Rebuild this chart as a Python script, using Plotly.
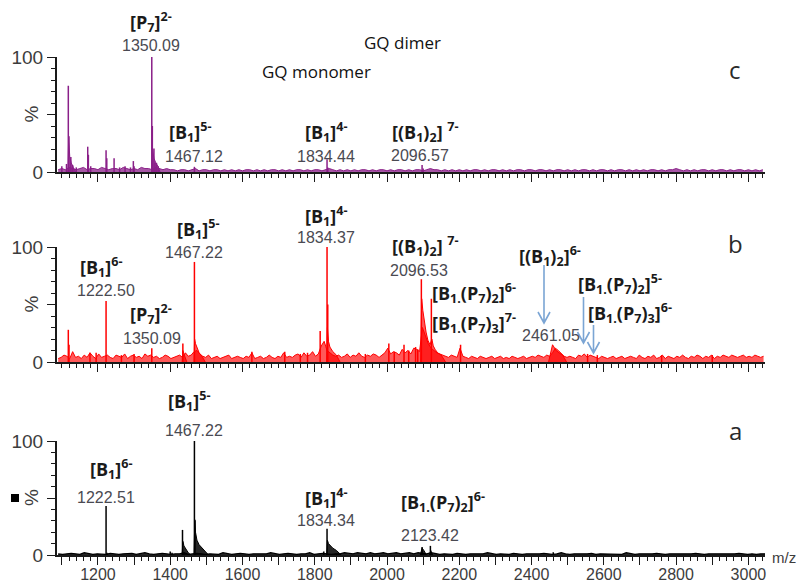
import plotly.graph_objects as go

# ---------------- data ----------------
# sharp sticks (m/z, relative intensity %)
c_peak_mz = [1100, 1113, 1118, 1119.5, 1125, 1130, 1140, 1171.7, 1173.5, 1180, 1222.5, 1224.5,
             1244.7, 1260, 1275, 1290, 1298, 1300, 1349, 1350.5, 1355, 1358, 1362, 1367,
             1467, 1834, 1836, 2097, 2100]
c_peak_int = [5, 7, 75, 31, 13, 6, 4, 22, 15, 5, 19, 12,
              12, 4, 5, 4, 9.5, 5, 100, 40, 20.5, 8, 8, 5,
              4.5, 11, 4, 6, 3]

b_peak_mz = [1118, 1120, 1178, 1195, 1222.5, 1265, 1300, 1349, 1435, 1467, 1626, 1717, 1760,
             1780, 1815, 1834, 1836, 1940, 2005, 2020, 2047, 2060, 2079, 2085, 2095,
             2122.7, 2203.5, 2555, 2582, 2760, 2900]
b_peak_int = [28, 15, 8, 8, 53, 6, 7, 12, 16, 87, 9, 9, 7,
              8, 27, 100, 50, 7, 16, 9, 15, 10, 13, 11, 72,
              55, 15, 7, 6, 6, 6]

a_peak_mz = [1222.5, 1225, 1400, 1405, 1434, 1467, 1468.5, 1825, 1834, 2097, 2120, 2460]
a_peak_int = [43, 2, 3, 2, 22, 100, 31, 3, 23, 7, 8, 2.5]

# unresolved envelopes / tails (m/z, intensity %), each segment starts and ends on the baseline
c_tail_mz = [1117, 1119, 1122, 1126, 1132, 1138, None,
             1350, 1351, 1355, 1360, 1366, 1372]
c_tail_int = [0, 31, 13, 8, 4, 0, None,
              0, 20, 12, 8, 5, 0]

b_tail_mz = [1433, 1435, 1439, 1446, None,
             1466, 1467.5, 1470, 1474, 1480, 1488, 1497, None,
             1833, 1835, 1838, 1842, 1850, 1860, 1870, None,
             2093, 2096, 2099, 2103, 2108, 2113, 2119, 2124, 2128, 2133, 2140, 2150, 2162, None,
             2447, 2453, 2458, 2462, 2468, 2476, 2486, 2497]
b_tail_int = [0, 10, 6, 0, None,
              0, 20, 16, 12, 8, 5, 0, None,
              0, 30, 18, 13, 9, 6, 0, None,
              0, 55, 45, 35, 26, 19, 15, 20, 14, 11, 8, 6, 0, None,
              0, 8, 15, 13, 10, 8, 6, 0]

a_tail_mz = [1433, 1435, 1438, 1443, 1450, 1457, None,
             1466, 1468, 1470, 1474, 1480, 1488, 1496, 1506, None,
             1833, 1835, 1838, 1843, 1850, 1860, 1873, None,
             2092, 2097, 2102, 2109, None,
             2118, 2121, 2126]
a_tail_int = [0, 12, 8, 5, 2, 0, None,
              0, 30, 20, 13, 9, 6, 4, 0, None,
              0, 13, 10, 8, 6, 4, 0, None,
              0, 6, 4, 0, None,
              0, 4, 0]

# baseline noise profiles (intensity %), sampled every *_noise_step m/z from *_noise_start
c_noise_start, c_noise_step = 1090, 10
c_noise = [2, 3, 2, 4, 3, 2, 3, 4, 2, 3, 3, 2, 4, 3, 2, 3,
           3, 2, 4, 3, 2, 3, 2, 4, 3, 3, 2, 4, 3, 2, 3, 2,
           2, 1, 2, 2, 1, 2, 3, 1, 2, 2, 1, 2, 2, 1, 2, 1,
           2, 1, 2, 1, 2, 2, 1, 2, 1, 2, 1, 2, 2, 1, 2, 1,
           2, 1, 2, 2, 1, 2, 1, 2, 2, 1, 2, 3, 2, 1, 2, 1,
           2, 1, 2, 1, 2, 2, 1, 2, 1, 2, 2, 1, 2, 1, 2, 2,
           1, 2, 1, 2, 2, 1, 2, 3, 2, 2, 1, 2, 1, 2, 1, 2,
           1, 2, 1, 2, 2, 1, 2, 1, 2, 2, 1, 2, 1, 2, 1, 2,
           2, 1, 2, 2, 1, 2, 2, 1, 2, 1, 2, 2, 1, 2, 1, 2,
           1, 2, 2, 1, 2, 1, 2, 2, 1, 2, 1, 2, 2, 1, 2, 1,
           2, 1, 2, 1, 2, 2, 1, 2, 1, 2, 2, 3, 2, 1, 2, 1,
           2, 1, 2, 2, 1, 2, 1, 2, 2, 1, 2, 1, 2, 2, 1, 2,
           1, 2, 1, 2]

b_noise_start, b_noise_step = 1090, 8
b_noise = [3, 4, 6, 5, 3, 9, 4, 5, 3, 6, 4, 8, 5, 3, 7, 4,
           5, 6, 4, 3, 6, 5, 4, 7, 3, 5, 6, 4, 5, 3, 7, 5,
           6, 4, 5, 3, 4, 6, 5, 3, 4, 5, 6, 4, 8, 5, 6, 9,
           10, 7, 5, 4, 6, 3, 4, 5, 3, 4, 5, 6, 3, 4, 5, 4,
           3, 5, 4, 8, 3, 4, 5, 3, 4, 6, 4, 3, 5, 4, 8, 4,
           5, 4, 6, 7, 4, 8, 5, 6, 9, 5, 7, 14, 18, 10, 8, 6,
           5, 6, 4, 5, 7, 4, 6, 5, 8, 5, 4, 6, 5, 7, 6, 4,
           6, 8, 12, 7, 9, 8, 6, 11, 8, 10, 7, 12, 11, 9, 30, 22,
           16, 12, 10, 8, 7, 6, 5, 4, 6, 5, 4, 12, 5, 4, 3, 5,
           4, 3, 5, 4, 3, 4, 5, 3, 4, 5, 3, 4, 3, 5, 4, 3,
           4, 5, 3, 4, 5, 4, 6, 5, 4, 6, 5, 8, 12, 10, 7, 5,
           4, 5, 4, 3, 6, 5, 7, 4, 6, 5, 4, 3, 5, 4, 3, 4,
           5, 3, 4, 5, 3, 4, 5, 4, 3, 6, 4, 3, 5, 4, 6, 3,
           4, 6, 3, 5, 4, 3, 5, 4, 6, 4, 3, 5, 4, 6, 5, 3,
           5, 4, 6, 3, 5, 4, 6, 5, 4, 6, 5, 4, 5, 6, 4, 5,
           4, 6, 5, 4, 5]

a_noise_start, a_noise_step = 1090, 12
a_noise = [1, 0.5, 1, 1.5, 1, 0.5, 2, 1, 0.5, 1, 1, 0.5, 1.5, 1, 0.5, 1,
           1, 1.5, 0.5, 1, 2, 1, 0.5, 1, 1.5, 1, 0.5, 1, 1, 2, 0.5, 1,
           1.5, 1, 0.5, 1, 1, 0.5, 2, 1, 0.5, 1, 1.5, 1, 0.5, 1, 1, 0.5,
           1, 2, 1, 0.5, 1, 1.5, 1, 0.5, 1, 1, 2, 0.5, 1, 1.5, 1, 0.5,
           1, 1, 2, 1.5, 1, 2, 1.5, 1, 2, 1, 1.5, 2, 1, 1.5, 2, 1,
           1.5, 2, 1, 2, 1.5, 1, 2, 1, 0.5, 1, 1, 0.5, 1.5, 1, 0.5, 1,
           1, 0.5, 1, 2, 1, 0.5, 1, 1, 0.5, 1.5, 1, 0.5, 1, 1, 0.5, 1,
           1.5, 1, 0.5, 1, 2, 1, 0.5, 1, 1, 0.5, 1, 1.5, 0.5, 1, 1, 0.5,
           1, 1, 0.5, 2, 1, 0.5, 1, 1, 0.5, 1, 1.5, 1, 0.5, 1, 1, 0.5,
           1, 0.5, 1, 1.5, 1, 0.5, 1, 1, 0.5, 1, 1, 0.5, 1, 1.5, 1, 0.5,
           1, 0.5, 1, 1]

tick_vals = [1100, 1200, 1300, 1400, 1500, 1600, 1700, 1800, 1900, 2000,
             2100, 2200, 2300, 2400, 2500, 2600, 2700, 2800, 2900, 3000]
tick_labels = ["", "1200", "", "1400", "", "1600", "", "1800", "", "2000",
               "", "2200", "", "2400", "", "2600", "", "2800", "", "3000"]

# ---------------- layout helpers ----------------
W, H = 799, 583
def fx(px):
    return px / W
def fy(py):
    return 1 - py / H

X_LEFT, X_RIGHT = 57, 765
X_RANGE = [1086.7, 3046]
# (top of 100 %, baseline) in px
panels = {"c": (57, 172), "b": (247, 362), "a": (441, 555)}
colors = {"c": "#8a1f88", "b": "#ff0000", "a": "#000000"}
fills = {"c": "rgba(138,31,136,0.75)", "b": "rgba(255,0,0,0.65)", "a": "rgba(0,0,0,0.85)"}
data = {
    "c": (c_peak_mz, c_peak_int, c_tail_mz, c_tail_int, c_noise_start, c_noise_step, c_noise),
    "b": (b_peak_mz, b_peak_int, b_tail_mz, b_tail_int, b_noise_start, b_noise_step, b_noise),
    "a": (a_peak_mz, a_peak_int, a_tail_mz, a_tail_int, a_noise_start, a_noise_step, a_noise),
}

fig = go.Figure()
layout = dict(
    width=W, height=H, autosize=False,
    margin=dict(l=0, r=0, t=0, b=0),
    paper_bgcolor="white", plot_bgcolor="white",
    showlegend=False,
)

AXCOL = "#1a1a1a"
for i, key in enumerate(["c", "b", "a"], start=1):
    top, bot = panels[key]
    pk_mz, pk_int, t_mz, t_int, n0, nstep, noise = data[key]
    xa = "x" if i == 1 else f"x{i}"
    ya = "y" if i == 1 else f"y{i}"
    col = colors[key]
    # noise profile (filled to baseline)
    nmz = [n0 + nstep * k for k in range(len(noise))]
    fig.add_trace(go.Scatter(x=nmz, y=noise, mode="lines", xaxis=xa, yaxis=ya,
                             line=dict(color=col, width=1.3 if key == "a" else 1),
                             fill="tozeroy", fillcolor=fills[key], hoverinfo="skip"))
    # unresolved tails
    fig.add_trace(go.Scatter(x=t_mz, y=t_int, mode="lines", xaxis=xa, yaxis=ya,
                             line=dict(color=col, width=1), fill="toself",
                             fillcolor=fills[key], hoverinfo="skip"))
    # sticks
    sx, sy = [], []
    for m, h in zip(pk_mz, pk_int):
        sx += [m, m, None]
        sy += [0, h, None]
    fig.add_trace(go.Scatter(x=sx, y=sy, mode="lines", xaxis=xa, yaxis=ya,
                             line=dict(color=col, width=1.5), hoverinfo="skip"))

    xname = "xaxis" if i == 1 else f"xaxis{i}"
    yname = "yaxis" if i == 1 else f"yaxis{i}"
    layout[xname] = dict(
        domain=[fx(X_LEFT), fx(X_RIGHT)], range=X_RANGE, anchor=ya,
        showline=True, linecolor=AXCOL, linewidth=2, showgrid=False, zeroline=False,
        ticks="outside", ticklen=8, tickwidth=1.2, tickcolor=AXCOL,
        tickmode="array", tickvals=tick_vals, ticktext=tick_labels,
        showticklabels=(key == "a"), automargin=False, ticklabelstandoff=-4,
        tickfont=dict(family="Liberation Sans, Arial", size=16, color="#3c3c3c"),
        minor=dict(tickmode="linear", tick0=0, dtick=20, ticks="outside", ticklen=4,
                   tickwidth=1, tickcolor=AXCOL, showgrid=False),
    )
    layout[yname] = dict(
        domain=[fy(bot), fy(top)], range=[0, 100], anchor=xa,
        showline=True, linecolor=AXCOL, linewidth=2, showgrid=False, zeroline=False,
        ticks="outside", ticklen=8, tickwidth=1.2, tickcolor=AXCOL,
        tickmode="array", tickvals=[0, 50, 100], ticktext=["0", "", "100"],
        automargin=False,
        tickfont=dict(family="Liberation Sans, Arial", size=19, color="#3c3c3c"),
        minor=dict(tickmode="linear", tick0=0, dtick=10, ticks="outside", ticklen=4,
                   tickwidth=1, tickcolor=AXCOL, showgrid=False),
    )

fig.update_layout(**layout)

# ---------------- annotations ----------------
BOLD = dict(family="Open Sans, Liberation Sans", size=18, color="#1a1a1a")
NUM = dict(family="Liberation Sans, Arial", size=16, color="#4a4a52")
BIG = dict(family="Open Sans", size=17, color="#111111")
LET = dict(family="Open Sans", size=24, color="#2a2a2a")

def ann(text, x, y, font, xanchor="center", angle=0):
    fig.add_annotation(text=text, x=fx(x), y=fy(y), xref="paper", yref="paper",
                       showarrow=False, font=font, xanchor=xanchor, yanchor="middle",
                       textangle=angle)

B1 = "B<sub>1</sub>"
labels = [
    # panel c
    ("<b>[P<sub>7</sub>]<sup>2-</sup></b>", 151, 22, BOLD), ("1350.09", 151, 45, NUM),
    (f"<b>[{B1}]<sup>5-</sup></b>", 190, 132, BOLD), ("1467.12", 194, 157, NUM),
    (f"<b>[{B1}]<sup>4-</sup></b>", 326, 132, BOLD), ("1834.44", 326, 157, NUM),
    (f"<b>[({B1})<sub>2</sub>] <sup>7-</sup></b>", 425, 132, BOLD), ("2096.57", 420, 155, NUM),
    ("GQ dimer", 402, 42, BIG), ("GQ monomer", 316, 71, BIG),
    ("c", 735, 70, LET),
    # panel b
    (f"<b>[{B1}]<sup>6-</sup></b>", 102, 267, BOLD), ("1222.50", 106, 290, NUM),
    ("<b>[P<sub>7</sub>]<sup>2-</sup></b>", 151, 314, BOLD), ("1350.09", 152, 338, NUM),
    (f"<b>[{B1}]<sup>5-</sup></b>", 198, 229, BOLD), ("1467.22", 194, 252, NUM),
    (f"<b>[{B1}]<sup>4-</sup></b>", 326, 216, BOLD), ("1834.37", 326, 237, NUM),
    (f"<b>[({B1})<sub>2</sub>] <sup>7-</sup></b>", 425, 246, BOLD), ("2096.53", 419, 270, NUM),
    ("<b>[B<sub>1.</sub>(P<sub>7</sub>)<sub>2</sub>]<sup>6-</sup></b>", 474, 293, BOLD),
    ("<b>[B<sub>1.</sub>(P<sub>7</sub>)<sub>3</sub>]<sup>7-</sup></b>", 474, 323, BOLD),
    (f"<b>[({B1})<sub>2</sub>]<sup>6-</sup></b>", 550, 256, BOLD), ("2461.05", 551, 335, NUM),
    ("<b>[B<sub>1.</sub>(P<sub>7</sub>)<sub>2</sub>]<sup>5-</sup></b>", 620, 284, BOLD),
    ("<b>[B<sub>1.</sub>(P<sub>7</sub>)<sub>3</sub>]<sup>6-</sup></b>", 630, 313, BOLD),
    ("b", 735, 243, LET),
    # panel a
    (f"<b>[{B1}]<sup>5-</sup></b>", 189, 401, BOLD), ("1467.22", 194, 430, NUM),
    (f"<b>[{B1}]<sup>6-</sup></b>", 111, 469, BOLD), ("1222.51", 106, 497, NUM),
    (f"<b>[{B1}]<sup>4-</sup></b>", 326, 498, BOLD), ("1834.34", 326, 520, NUM),
    ("<b>[B<sub>1.</sub>(P<sub>7</sub>)<sub>2</sub>]<sup>6-</sup></b>", 443, 502, BOLD),
    ("2123.42", 430, 535, NUM),
    ("a", 735, 430, LET),
]
for t, x, y, f in labels:
    ann(t, x, y, f)

ann("m/z", 770, 557, dict(family="Liberation Sans, Arial", size=15, color="#3c3c3c"), xanchor="left")

# y-axis "%" labels
for key in ["c", "b", "a"]:
    top, bot = panels[key]
    ann("%", 31, (top + bot) / 2, dict(family="Liberation Sans, Arial", size=19, color="#3c3c3c"), angle=-90)

# black square artifact next to panel a "%"
fig.add_shape(type="rect", xref="paper", yref="paper",
              x0=fx(11), x1=fx(19), y0=fy(502), y1=fy(494),
              fillcolor="#000000", line=dict(width=0))

# blue arrows in panel b
ARROW = "#7ba5d4"
arrows = [(544, 265, 323), (583.5, 297, 343), (593.5, 325, 353)]
for x, y1, y2 in arrows:
    path = (f"M {fx(x)},{fy(y1)} L {fx(x)},{fy(y2)} "
            f"M {fx(x-6)},{fy(y2-11)} L {fx(x)},{fy(y2)} L {fx(x+6)},{fy(y2-11)}")
    fig.add_shape(type="path", xref="paper", yref="paper", path=path,
                  line=dict(color=ARROW, width=1.6))

fig.write_html("out.html")
